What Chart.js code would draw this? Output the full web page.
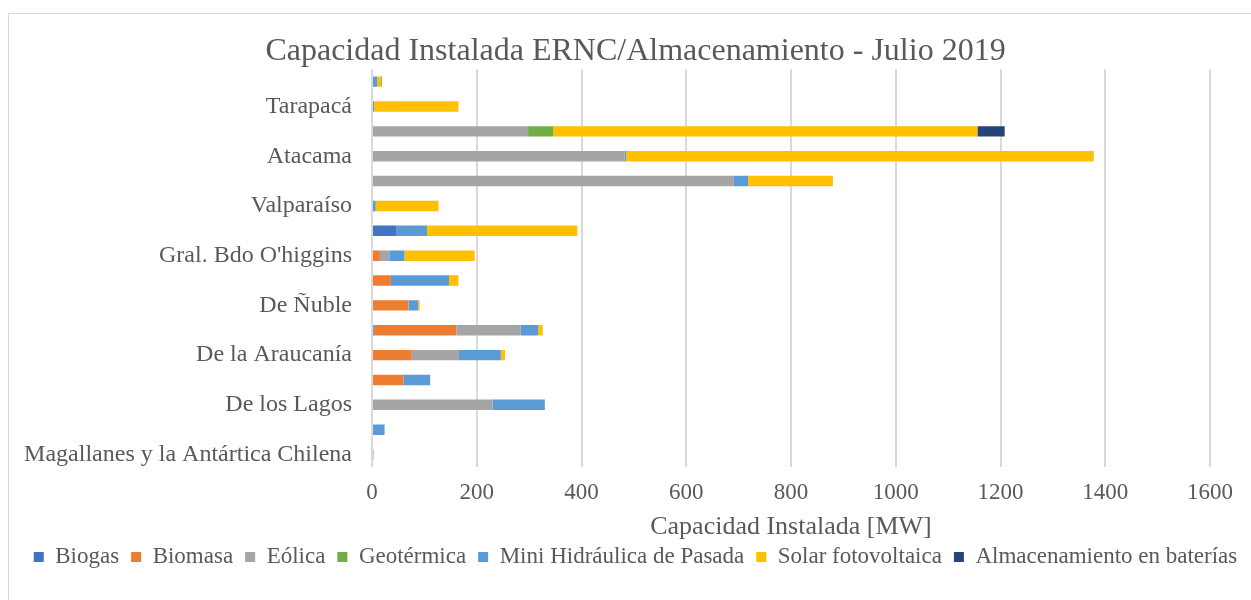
<!DOCTYPE html>
<html>
<head>
<meta charset="utf-8">
<script src="https://cdn.jsdelivr.net/npm/chart.js@4.4.1/dist/chart.umd.min.js"></script>
<style>
  body { margin: 0; background: #ffffff; overflow: hidden; }
  #wrap { position: relative; width: 1251px; height: 600px; }
  #frame { position: absolute; left: 8px; top: 13px; width: 1300px; height: 700px;
           border: 1px solid #d9d9d9; box-sizing: border-box; pointer-events: none; }
  canvas { position: absolute; left: 0; top: 0; }
</style>
</head>
<body>
<div id="wrap">
  <div id="frame"></div>
  <canvas id="chart" width="1251" height="600"></canvas>
</div>
<script>
// ===================================
// DATA
// ===================================

const regions = [
    'Arica y Parinacota', 'Tarapacá', 'Antofagasta', 'Atacama', 'Coquimbo',
    'Valparaíso', 'Metropolitana', "Gral. Bdo O'higgins", 'Maule', 'De Ñuble',
    'Biobío', 'De la Araucanía', 'De los Ríos', 'De los Lagos', 'Aysén',
    'Magallanes y la Antártica Chilena'
];

// MW per region, same order as regions
const biogas         = [0, 0, 0, 0, 0, 2, 47, 0, 0, 0, 3, 0, 0, 0, 0, 0];
const biomasa        = [0, 0, 0, 0, 0, 0, 0, 15, 36, 69, 158, 76, 60, 0, 0, 0];
const eolica         = [0, 0, 298, 482, 691, 0, 0, 18, 0, 1, 123, 90, 0, 230, 2, 3];
const geotermica     = [0, 0, 48, 0, 0, 0, 0, 0, 0, 0, 0, 0, 0, 0, 0, 0];
const miniHidraulica = [10, 4, 0, 3, 27, 5, 58, 29, 111, 18, 33, 80, 51, 100, 22, 0];
const solar          = [8, 161, 810, 893, 162, 120, 287, 134, 18, 3, 9, 8, 0, 0, 0, 0];
const baterias       = [1, 0, 52, 0, 0, 0, 0, 0, 0, 0, 0, 0, 0, 0, 0, 0];

const xTicks = [0, 200, 400, 600, 800, 1000, 1200, 1400, 1600];

// ===================================
// CHART
// ===================================

const FONT = "'Liberation Serif', 'Times New Roman', serif";
const TEXT = '#595959';

function series(label, data, color) {
    return {
        label: label,
        data: data,
        backgroundColor: color,
        borderWidth: 0,
        barPercentage: 0.42,
        categoryPercentage: 1.0
    };
}

const ctx = document.getElementById('chart').getContext('2d');

new Chart(ctx, {
    type: 'bar',
    data: {
        labels: regions,
        datasets: [
            series('Biogas', biogas, '#4472C4'),
            series('Biomasa', biomasa, '#ED7D31'),
            series('Eólica', eolica, '#A5A5A5'),
            series('Geotérmica', geotermica, '#70AD47'),
            series('Mini Hidráulica de Pasada', miniHidraulica, '#5B9BD5'),
            series('Solar fotovoltaica', solar, '#FFC000'),
            series('Almacenamiento en baterías', baterias, '#264478')
        ]
    },
    options: {
        indexAxis: 'y',
        responsive: false,
        animation: false,
        layout: {
            padding: { top: 34, left: 20, right: 0, bottom: 21.5 }
        },
        plugins: {
            title: {
                display: true,
                text: 'Capacidad Instalada ERNC/Almacenamiento - Julio 2019',
                color: TEXT,
                font: { family: FONT, size: 32, weight: 'normal', lineHeight: 1.1 },
                padding: { top: 0, bottom: 0 }
            },
            legend: {
                position: 'bottom',
                labels: {
                    color: TEXT,
                    font: { family: FONT, size: 23 },
                    boxWidth: 10,
                    boxHeight: 10,
                    padding: 12
                }
            },
            tooltip: { enabled: false }
        },
        scales: {
            x: {
                stacked: true,
                min: 0,
                max: 1600,
                afterBuildTicks: function(scale) {
                    scale.ticks = xTicks.map(v => ({ value: v }));
                },
                afterFit: function(scale) {
                    scale.height = 66.5;
                },
                grid: {
                    color: '#d9d9d9',
                    lineWidth: 2,
                    drawTicks: false
                },
                border: { display: false },
                ticks: {
                    color: TEXT,
                    font: { family: FONT, size: 23 },
                    padding: 12,
                    maxRotation: 0,
                    callback: function(value) {
                        return String(value);
                    }
                },
                title: {
                    display: true,
                    text: 'Capacidad Instalada [MW]',
                    color: TEXT,
                    font: { family: FONT, size: 26, lineHeight: 0.5 },
                    padding: { top: 0, bottom: 0 }
                }
            },
            y: {
                stacked: true,
                afterFit: function(scale) {
                    scale.width = 372 - 20;
                },
                grid: { display: false, drawTicks: false },
                border: { display: false },
                ticks: {
                    autoSkip: false,
                    color: TEXT,
                    font: { family: FONT, size: 24 },
                    padding: 20,
                    callback: function(value, index) {
                        // only every second region is labelled
                        return index % 2 === 1 ? this.getLabelForValue(value) : '';
                    }
                }
            },
            // empty right-hand gutter so the plot ends at 1600 like the original
            yRight: {
                type: 'category',
                position: 'right',
                afterFit: function(scale) {
                    scale.width = 41;
                },
                grid: { display: false, drawTicks: false },
                border: { display: false },
                ticks: { display: false }
            }
        }
    }
});
</script>
</body>
</html>
